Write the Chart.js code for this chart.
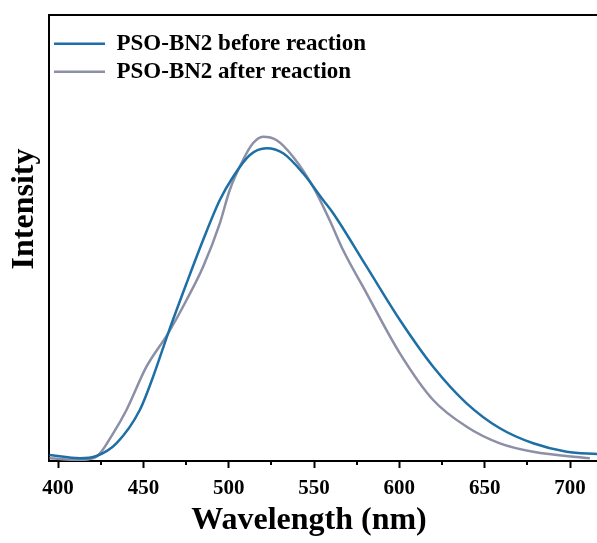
<!DOCTYPE html>
<html>
<head>
<meta charset="utf-8">
<script src="https://cdn.jsdelivr.net/npm/chart.js@4/dist/chart.umd.min.js"></script>
<style>
  html, body { margin: 0; padding: 0; background: #fff; }
  #wrap { width: 597px; height: 543px; position: relative; }
</style>
</head>
<body>
<div id="wrap"><canvas id="plChart"></canvas></div>
<script>
// values (arbitrary intensity units)
const beforeNm = [395, 412.7, 422.5, 434.2, 447.9, 455.7, 464.5, 475.3, 485, 494.8, 502.6, 512.4, 522.2, 531.9, 543.6, 555.3, 561.2, 580.8, 600.3, 619.8, 639.4, 658.9, 678.4, 698, 716];
const beforeVal = [6, 2.7, 5, 17.7, 51, 84.3, 127.7, 177.7, 221, 261, 284.3, 306, 312.7, 307.7, 287.7, 261, 247.7, 194.3, 141, 94.3, 57.7, 32.7, 17.7, 9.3, 7];
const afterNm = [395, 412.7, 422.5, 432.3, 440.1, 451.8, 464.5, 475.3, 485, 494.8, 500.6, 508.4, 514.2, 520.1, 527.9, 537.7, 549.4, 559.1, 567, 580.8, 600.3, 619.8, 639.4, 658.9, 678.4, 711.6];
const afterVal = [2.7, 1, 4.3, 27.7, 51, 94.3, 127.7, 161, 194.3, 237.7, 271, 301, 317.7, 324.3, 321, 304.3, 274.3, 241, 211, 167.7, 107.7, 61, 34.3, 17.7, 9.3, 2.7];
const seriesNames = ['PSO-BN2 before reaction', 'PSO-BN2 after reaction'];
const xTitle = 'Wavelength (nm)';
const yTitle = 'Intensity';

const serif = '"Liberation Serif", "Times New Roman", serif';

function toPoints(xs, ys) {
  return xs.map((x, i) => ({ x: x, y: ys[i] }));
}

// minor ticks (every 25 nm) and the two axis titles
const extras = {
  id: 'extras',
  afterDraw(chart) {
    const ctx = chart.ctx;
    const sx = chart.scales.x;
    const area = chart.chartArea;
    ctx.save();
    ctx.strokeStyle = '#000';
    ctx.lineWidth = 2;
    sx.ticks.forEach(t => {
      if (t.value % 50 === 0) return;
      const px = Math.round(sx.getPixelForValue(t.value));
      ctx.beginPath();
      ctx.moveTo(px, area.bottom);
      ctx.lineTo(px, area.bottom + 4);
      ctx.stroke();
    });

    ctx.fillStyle = '#000';
    ctx.font = 'bold 32px ' + serif;
    ctx.textAlign = 'center';
    ctx.textBaseline = 'middle';
    ctx.fillText(xTitle, 309, 521);

    ctx.translate(25, 209);
    ctx.rotate(-Math.PI / 2);
    ctx.fillText(yTitle, 0, 0);
    ctx.restore();
  }
};

new Chart(document.getElementById('plChart'), {
  type: 'line',
  data: {
    datasets: [
      {
        label: seriesNames[0],
        data: toPoints(beforeNm, beforeVal),
        borderColor: '#1d6fa5',
        backgroundColor: '#1d6fa5',
        borderWidth: 2.5,
        pointRadius: 0,
        cubicInterpolationMode: 'monotone',
        pointStyle: 'line'
      },
      {
        label: seriesNames[1],
        data: toPoints(afterNm, afterVal),
        borderColor: '#8c8fa6',
        backgroundColor: '#8c8fa6',
        borderWidth: 2.5,
        pointRadius: 0,
        cubicInterpolationMode: 'monotone',
        pointStyle: 'line'
      }
    ]
  },
  options: {
    responsive: true,
    maintainAspectRatio: false,
    animation: false,
    layout: { padding: 0 },
    plugins: {
      tooltip: { enabled: false },
      legend: {
        position: 'chartArea',
        align: 'start',
        title: { display: true, text: '', font: { size: 1 }, padding: { top: 0, bottom: 26 } },
        labels: {
          usePointStyle: true,
          pointStyleWidth: 51,
          padding: 5,
          color: '#000',
          font: { family: serif, size: 23, weight: 'bold' }
        }
      }
    },
    scales: {
      x: {
        type: 'linear',
        position: 'bottom',
        min: 394.7,
        max: 715.8,
        afterFit: s => { s.height = 82; },
        ticks: {
          stepSize: 25,
          includeBounds: false,
          maxRotation: 0,
          autoSkip: false,
          padding: 8,
          color: '#000',
          font: { family: serif, size: 21, weight: 'bold' },
          callback: v => (v % 50 === 0 ? String(v) : '')
        },
        grid: {
          drawOnChartArea: false,
          tickLength: 7,
          tickWidth: 2,
          tickColor: c => (c.tick && c.tick.value % 50 === 0 ? '#000' : 'rgba(0,0,0,0)')
        },
        border: { display: true, color: '#000', width: 2 }
      },
      xTop: {
        type: 'linear',
        position: 'top',
        min: 394.7,
        max: 715.8,
        afterFit: s => { s.height = 15; },
        ticks: { display: false },
        grid: { display: false },
        border: { display: true, color: '#000', width: 2 }
      },
      y: {
        min: 0,
        max: 446,
        afterFit: s => { s.width = 49; },
        ticks: { display: false },
        grid: { display: false },
        border: { display: true, color: '#000', width: 2 }
      }
    }
  },
  plugins: [extras]
});
</script>
</body>
</html>
